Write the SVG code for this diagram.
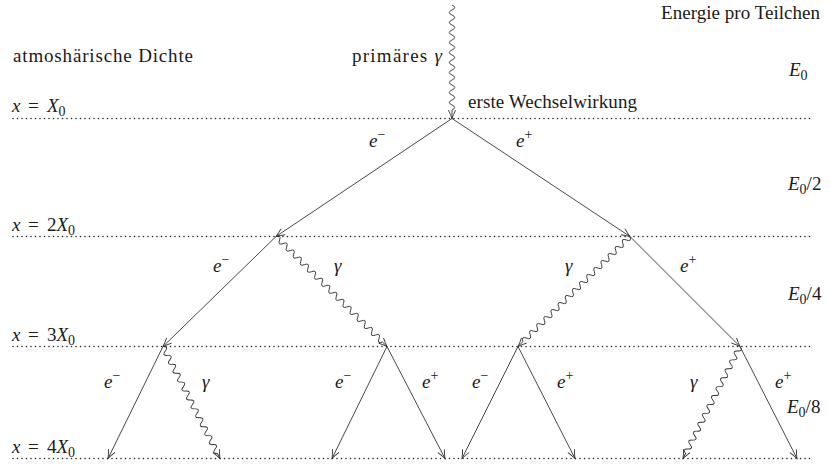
<svg xmlns="http://www.w3.org/2000/svg" width="830" height="468" viewBox="0 0 830 468">
<defs>
<style>
.t{font-family:"Liberation Serif","Times New Roman",serif;font-size:19px;fill:#1a1a1a}
.i{font-style:italic}
.n{font-style:normal}
.s{font-size:14px;font-style:normal}
.ln{stroke:#333;stroke-width:0.9;fill:none;marker-end:url(#arr)}
.dot{stroke:#222;stroke-width:1.6;stroke-linecap:round;stroke-dasharray:0 4.5;fill:none}
</style>
<marker id="arr" markerUnits="userSpaceOnUse" markerWidth="12" markerHeight="10" viewBox="0 0 12 10" refX="10" refY="5" orient="auto">
<path d="M1.5,1.4 Q6,3.6 10,5 Q6,6.4 1.5,8.6" fill="none" stroke="#333" stroke-width="0.9"/>
</marker>
</defs>
<rect width="830" height="468" fill="#fff"/>

<g id="levels">
<line class="dot" x1="13" y1="118.5" x2="811" y2="118.5"/>
<line class="dot" x1="13" y1="236.5" x2="811" y2="236.5"/>
<line class="dot" x1="13" y1="346.5" x2="811" y2="346.5"/>
<line class="dot" x1="13" y1="458.5" x2="811" y2="458.5"/>
</g>

<g id="connectors">
<g transform="translate(452,5) rotate(90)"><path class="ln" d="M0,0q2.5,-5.5 5,0t5,0t5,0t5,0t5,0t5,0 t5,0t5,0t5,0t5,0t5,0 t5,0t5,0t5,0t5,0t5,0 t5,0t5,0t5,0t5,0t5,0 l8.5,0"/></g>
<line class="ln" x1="452" y1="118.5" x2="276" y2="236.5"/>
<line class="ln" x1="452" y1="118.5" x2="630" y2="236.5"/>
<line class="ln" x1="276" y1="236.5" x2="163" y2="346.5"/>
<g transform="translate(276,236.5) rotate(44.74)"><path class="ln" d="M0,0q2.5,-5.5 5,0t5,0t5,0t5,0t5,0t5,0 t5,0t5,0t5,0t5,0t5,0 t5,0t5,0t5,0t5,0t5,0 t5,0t5,0t5,0t5,0t5,0 t5,0t5,0t5,0t5,0t5,0 t5,0t5,0t5,0t5,0 l6.3,0"/></g>
<g transform="translate(630,236.5) rotate(135.52)"><path class="ln" d="M0,0q2.5,-5.5 5,0t5,0t5,0t5,0t5,0t5,0 t5,0t5,0t5,0t5,0t5,0 t5,0t5,0t5,0t5,0t5,0 t5,0t5,0t5,0t5,0t5,0 t5,0t5,0t5,0t5,0t5,0 t5,0t5,0t5,0t5,0 l7,0"/></g>
<line class="ln" x1="630" y1="236.5" x2="740" y2="346.5"/>
<line class="ln" x1="163" y1="346.5" x2="108" y2="458.5"/>
<g transform="translate(163,346.5) rotate(63.03)"><path class="ln" d="M0,0q2.5,-5.5 5,0t5,0t5,0t5,0t5,0t5,0 t5,0t5,0t5,0t5,0t5,0 t5,0t5,0t5,0t5,0t5,0 t5,0t5,0t5,0t5,0t5,0 t5,0t5,0t5,0 l5.7,0"/></g>
<line class="ln" x1="387" y1="346.5" x2="332" y2="458.5"/>
<line class="ln" x1="387" y1="346.5" x2="445" y2="458.5"/>
<line class="ln" x1="518" y1="346.5" x2="462" y2="458.5"/>
<line class="ln" x1="518" y1="346.5" x2="575" y2="458.5"/>
<g transform="translate(740,346.5) rotate(116.97)"><path class="ln" d="M0,0q2.5,-5.5 5,0t5,0t5,0t5,0t5,0t5,0 t5,0t5,0t5,0t5,0t5,0 t5,0t5,0t5,0t5,0t5,0 t5,0t5,0t5,0t5,0t5,0 t5,0t5,0t5,0 l5.7,0"/></g>
<line class="ln" x1="740" y1="346.5" x2="797" y2="458.5"/>
</g>

<g id="header">
<text class="t" x="661" y="19" textLength="159" lengthAdjust="spacing">Energie pro Teilchen</text>
<text class="t" x="13" y="62" textLength="180" lengthAdjust="spacing">atmoshärische Dichte</text>
<text class="t" x="442" y="62" text-anchor="end" textLength="90" lengthAdjust="spacing">primäres <tspan class="i">γ</tspan></text>
<text class="t" x="468" y="108" textLength="169" lengthAdjust="spacing">erste Wechselwirkung</text>
</g>

<g id="depth-labels">
<text class="t" y="112"><tspan class="i" x="12">x</tspan><tspan x="28">=</tspan><tspan class="i" x="47">X</tspan><tspan class="s" dy="4">0</tspan></text>
<text class="t" y="231"><tspan class="i" x="12">x</tspan><tspan x="28">=</tspan><tspan x="47">2</tspan><tspan class="i">X</tspan><tspan class="s" dy="4">0</tspan></text>
<text class="t" y="341"><tspan class="i" x="12">x</tspan><tspan x="28">=</tspan><tspan x="47">3</tspan><tspan class="i">X</tspan><tspan class="s" dy="4">0</tspan></text>
<text class="t" y="453"><tspan class="i" x="12">x</tspan><tspan x="28">=</tspan><tspan x="47">4</tspan><tspan class="i">X</tspan><tspan class="s" dy="4">0</tspan></text>
</g>

<g id="energy-labels">
<text class="t i" x="789" y="76">E<tspan class="s" dy="4">0</tspan></text>
<text class="t i" x="788" y="190">E<tspan class="s" dy="4">0</tspan><tspan class="n" dy="-4">/2</tspan></text>
<text class="t i" x="788" y="300">E<tspan class="s" dy="4">0</tspan><tspan class="n" dy="-4">/4</tspan></text>
<text class="t i" x="787" y="413">E<tspan class="s" dy="4">0</tspan><tspan class="n" dy="-4">/8</tspan></text>
</g>

<g id="particle-labels">
<text class="t i" x="369" y="147">e<tspan class="s" dy="-8">−</tspan></text>
<text class="t i" x="516" y="147">e<tspan class="s" dy="-8">+</tspan></text>
<text class="t i" x="213" y="272">e<tspan class="s" dy="-8">−</tspan></text>
<text class="t i" x="334" y="272">γ</text>
<text class="t i" x="565" y="272">γ</text>
<text class="t i" x="680" y="272">e<tspan class="s" dy="-8">+</tspan></text>
<text class="t i" x="104" y="388">e<tspan class="s" dy="-8">−</tspan></text>
<text class="t i" x="202" y="388">γ</text>
<text class="t i" x="335" y="388">e<tspan class="s" dy="-8">−</tspan></text>
<text class="t i" x="422" y="388">e<tspan class="s" dy="-8">+</tspan></text>
<text class="t i" x="472" y="388">e<tspan class="s" dy="-8">−</tspan></text>
<text class="t i" x="557" y="388">e<tspan class="s" dy="-8">+</tspan></text>
<text class="t i" x="690" y="388">γ</text>
<text class="t i" x="775" y="388">e<tspan class="s" dy="-8">+</tspan></text>
</g>
</svg>
